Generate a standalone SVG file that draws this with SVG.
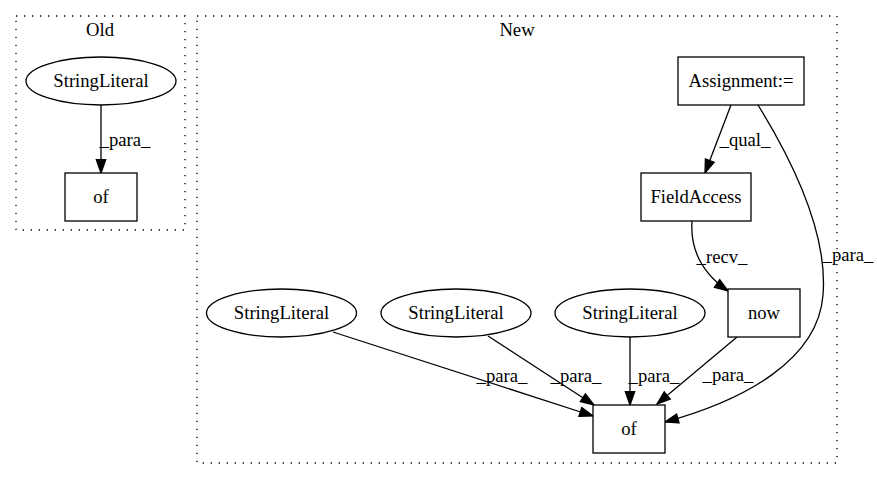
<svg xmlns="http://www.w3.org/2000/svg" width="877" height="480" viewBox="0 0 877 480">
<style>
.cl{fill:none;stroke:#000;stroke-width:1.3;stroke-dasharray:1.3,6.7}
.n{fill:#fff;stroke:#000;stroke-width:1.3}
.e{fill:none;stroke:#000;stroke-width:1.3}
</style>
<defs>
<marker id="ah" markerUnits="userSpaceOnUse" markerWidth="14" markerHeight="10" refX="13.3" refY="4.67" orient="auto" overflow="visible">
<path d="M0,0 L13.3,4.67 L0,9.33 z" fill="#000" stroke="#000" stroke-width="1.3"/>
</marker>
</defs>
<rect width="877" height="480" fill="#fff"/>
<g font-family="Liberation Serif, Times New Roman, Times, serif" font-size="18.67" text-anchor="middle" fill="#000">
<g id="cluster_old">
<rect class="cl" x="16" y="16" width="169" height="214"/>
<text x="100" y="36">Old</text>
</g>
<g id="cluster_new">
<rect class="cl" x="197" y="16" width="640" height="447"/>
<text x="517" y="36">New</text>
</g>
<g id="connectors">
<path class="e" d="M101,105 L101,173" marker-end="url(#ah)"/>
<text x="125" y="146">_para_</text>
<path class="e" d="M731,105 L705,173" marker-end="url(#ah)"/>
<text x="745" y="146">_qual_</text>
<path class="e" d="M692,221 C690,250 702,273 728,291" marker-end="url(#ah)"/>
<text x="722" y="263">_recv_</text>
<path class="e" d="M758,105 C795,165 828,235 823,295 C818,360 745,400 665,422" marker-end="url(#ah)"/>
<text x="848" y="261">_para_</text>
<path class="e" d="M737,337 L657,404" marker-end="url(#ah)"/>
<text x="728" y="381">_para_</text>
<path class="e" d="M630,337 L630,405" marker-end="url(#ah)"/>
<text x="654" y="382">_para_</text>
<path class="e" d="M488,336 L594,405" marker-end="url(#ah)"/>
<text x="576" y="382">_para_</text>
<path class="e" d="M333,332 L593,416" marker-end="url(#ah)"/>
<text x="502" y="382">_para_</text>
</g>
<g id="old_stringliteral">
<ellipse class="n" cx="101" cy="81" rx="75" ry="24"/>
<text x="101" y="87">StringLiteral</text>
</g>
<g id="old_of">
<rect class="n" x="65" y="173" width="72" height="48"/>
<text x="101" y="203">of</text>
</g>
<g id="assignment">
<rect class="n" x="678" y="57" width="126" height="48"/>
<text x="741" y="87">Assignment:=</text>
</g>
<g id="fieldaccess">
<rect class="n" x="641" y="173" width="110" height="48"/>
<text x="696" y="203">FieldAccess</text>
</g>
<g id="now">
<rect class="n" x="728" y="289" width="72" height="48"/>
<text x="764" y="319">now</text>
</g>
<g id="stringliteral1">
<ellipse class="n" cx="281.5" cy="313" rx="75" ry="24"/>
<text x="281.5" y="319">StringLiteral</text>
</g>
<g id="stringliteral2">
<ellipse class="n" cx="456" cy="313" rx="75" ry="24"/>
<text x="456" y="319">StringLiteral</text>
</g>
<g id="stringliteral3">
<ellipse class="n" cx="630" cy="313" rx="75" ry="24"/>
<text x="630" y="319">StringLiteral</text>
</g>
<g id="new_of">
<rect class="n" x="593" y="405" width="72" height="48"/>
<text x="629" y="435">of</text>
</g>
</g>
</svg>
